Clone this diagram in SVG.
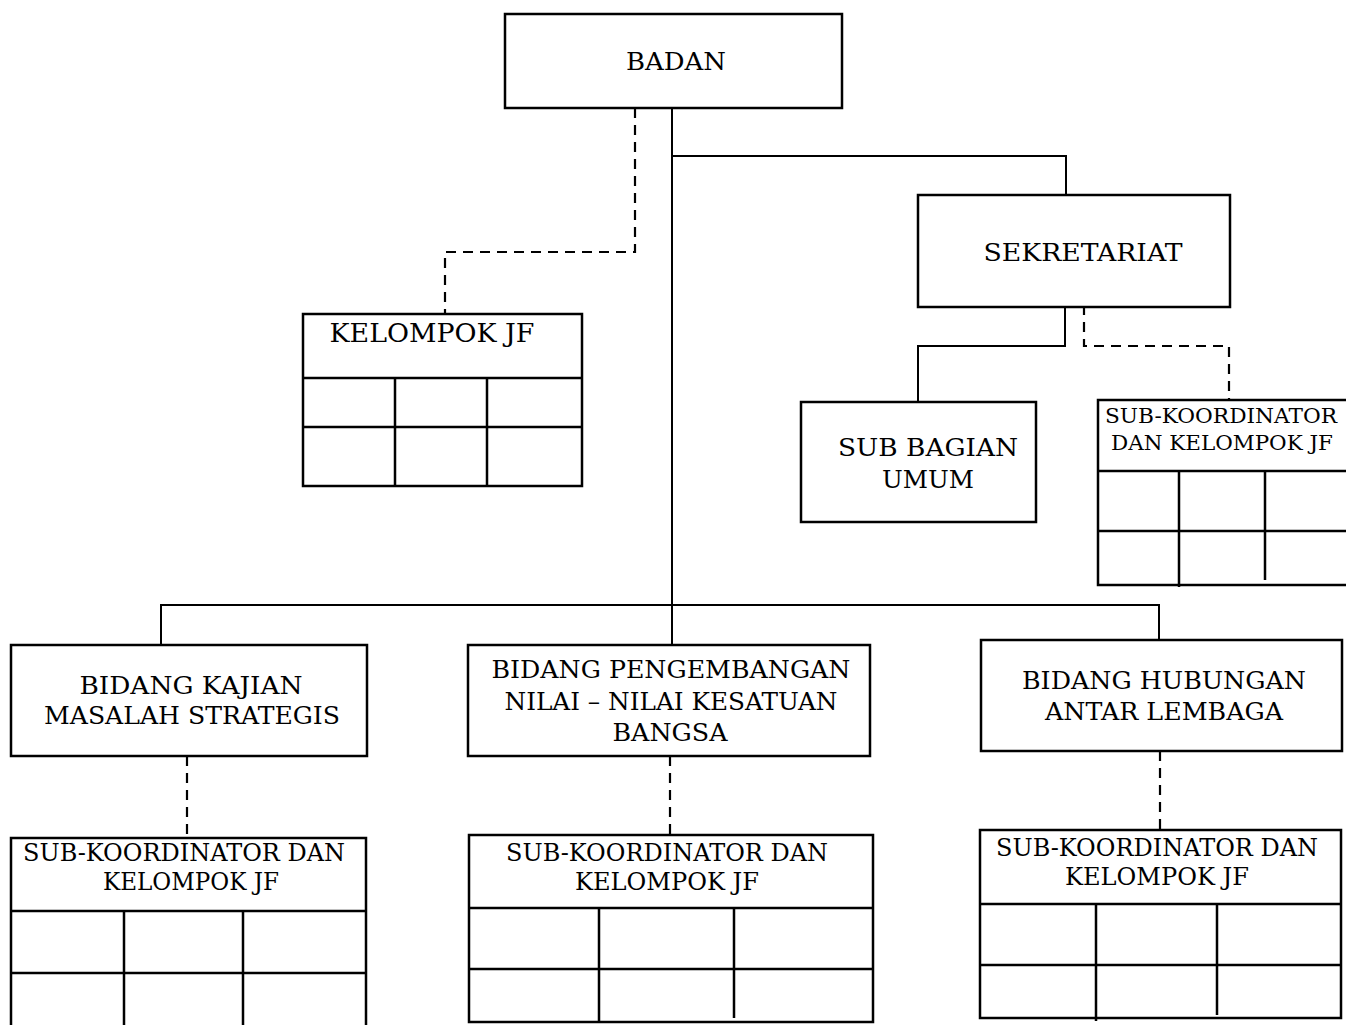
<svg xmlns="http://www.w3.org/2000/svg" width="1346" height="1025" viewBox="0 0 1346 1025">
<style>
.box{fill:#fff;stroke:#000;stroke-width:2.5}
.ln{stroke:#000;stroke-width:2.5;fill:none}
.c{stroke:#000;stroke-width:2;fill:none}
.d{stroke:#000;stroke-width:2.2;fill:none;stroke-dasharray:10 7}
text{font-family:"DejaVu Serif","Liberation Serif",serif;font-size:24.5px;fill:#000;text-anchor:middle}
.s{font-size:20.5px}
.k{font-size:26px}
</style>
<rect width="1346" height="1025" fill="#fff"/>
<g id="connectors">
<path class="c" d="M672 108V605"/>
<path class="c" d="M672 156H1066V195"/>
<path class="d" d="M635 108V252H445V314"/>
<path class="c" d="M1065 307V346H918V402"/>
<path class="d" d="M1084 305V346H1229V400"/>
<path class="c" d="M161 645V605H1159V640"/>
<path class="c" d="M672 605V645"/>
<path class="d" d="M187 756V838"/>
<path class="d" d="M670 756V835"/>
<path class="d" d="M1160 751V830"/>
</g>
<g id="badan">
<rect class="box" x="505" y="14" width="337" height="94"/>
<text x="676" y="70" textLength="100" lengthAdjust="spacingAndGlyphs">BADAN</text>
</g>
<g id="kelompok-jf">
<rect class="box" x="303" y="314" width="279" height="172"/>
<path class="ln" d="M303 378H582M303 427H582M395 378V486M487 378V486"/>
<text class="k" x="432" y="342" textLength="205" lengthAdjust="spacingAndGlyphs">KELOMPOK JF</text>
</g>
<g id="sekretariat">
<rect class="box" x="918" y="195" width="312" height="112"/>
<text x="1083" y="261" textLength="199" lengthAdjust="spacingAndGlyphs">SEKRETARIAT</text>
</g>
<g id="sub-bagian-umum">
<rect class="box" x="801" y="402" width="235" height="120"/>
<text x="928" y="456" textLength="180" lengthAdjust="spacingAndGlyphs">SUB BAGIAN</text>
<text x="928" y="488" textLength="92" lengthAdjust="spacingAndGlyphs">UMUM</text>
</g>
<g id="sub-koord-sekretariat">
<rect class="box" x="1098" y="400" width="260" height="185"/>
<path class="ln" d="M1098 471H1346M1098 531H1346M1179 471V587M1265 471V580"/>
<text class="s" x="1221" y="423" textLength="232" lengthAdjust="spacingAndGlyphs">SUB-KOORDINATOR</text>
<text class="s" x="1222" y="450" textLength="222" lengthAdjust="spacingAndGlyphs">DAN KELOMPOK JF</text>
</g>
<g id="bidang-kajian">
<rect class="box" x="11" y="645" width="356" height="111"/>
<text x="191" y="694" textLength="223" lengthAdjust="spacingAndGlyphs">BIDANG KAJIAN</text>
<text x="192" y="724" textLength="296" lengthAdjust="spacingAndGlyphs">MASALAH STRATEGIS</text>
</g>
<g id="bidang-pengembangan">
<rect class="box" x="468" y="645" width="402" height="111"/>
<text x="671" y="678" textLength="359" lengthAdjust="spacingAndGlyphs">BIDANG PENGEMBANGAN</text>
<text x="671" y="710" textLength="333" lengthAdjust="spacingAndGlyphs">NILAI – NILAI KESATUAN</text>
<text x="670" y="741" textLength="115" lengthAdjust="spacingAndGlyphs">BANGSA</text>
</g>
<g id="bidang-hubungan">
<rect class="box" x="981" y="640" width="361" height="111"/>
<text x="1164" y="689" textLength="284" lengthAdjust="spacingAndGlyphs">BIDANG HUBUNGAN</text>
<text x="1164" y="720" textLength="238" lengthAdjust="spacingAndGlyphs">ANTAR LEMBAGA</text>
</g>
<g id="sub-koord-kajian">
<rect class="box" x="11" y="838" width="355" height="200"/>
<path class="ln" d="M11 911H366M11 973H366M124 911V1025M243 911V1025"/>
<text x="184" y="861" textLength="322" lengthAdjust="spacingAndGlyphs">SUB-KOORDINATOR DAN</text>
<text x="191" y="890" textLength="176" lengthAdjust="spacingAndGlyphs">KELOMPOK JF</text>
</g>
<g id="sub-koord-pengembangan">
<rect class="box" x="469" y="835" width="404" height="187"/>
<path class="ln" d="M469 908H873M469 969H873M599 908V1022M734 908V1018"/>
<text x="667" y="861" textLength="322" lengthAdjust="spacingAndGlyphs">SUB-KOORDINATOR DAN</text>
<text x="667" y="890" textLength="184" lengthAdjust="spacingAndGlyphs">KELOMPOK JF</text>
</g>
<g id="sub-koord-hubungan">
<rect class="box" x="980" y="830" width="361" height="188"/>
<path class="ln" d="M980 904H1341M980 965H1341M1096 904V1021M1217 904V1015"/>
<text x="1157" y="856" textLength="322" lengthAdjust="spacingAndGlyphs">SUB-KOORDINATOR DAN</text>
<text x="1157" y="885" textLength="184" lengthAdjust="spacingAndGlyphs">KELOMPOK JF</text>
</g>
</svg>
